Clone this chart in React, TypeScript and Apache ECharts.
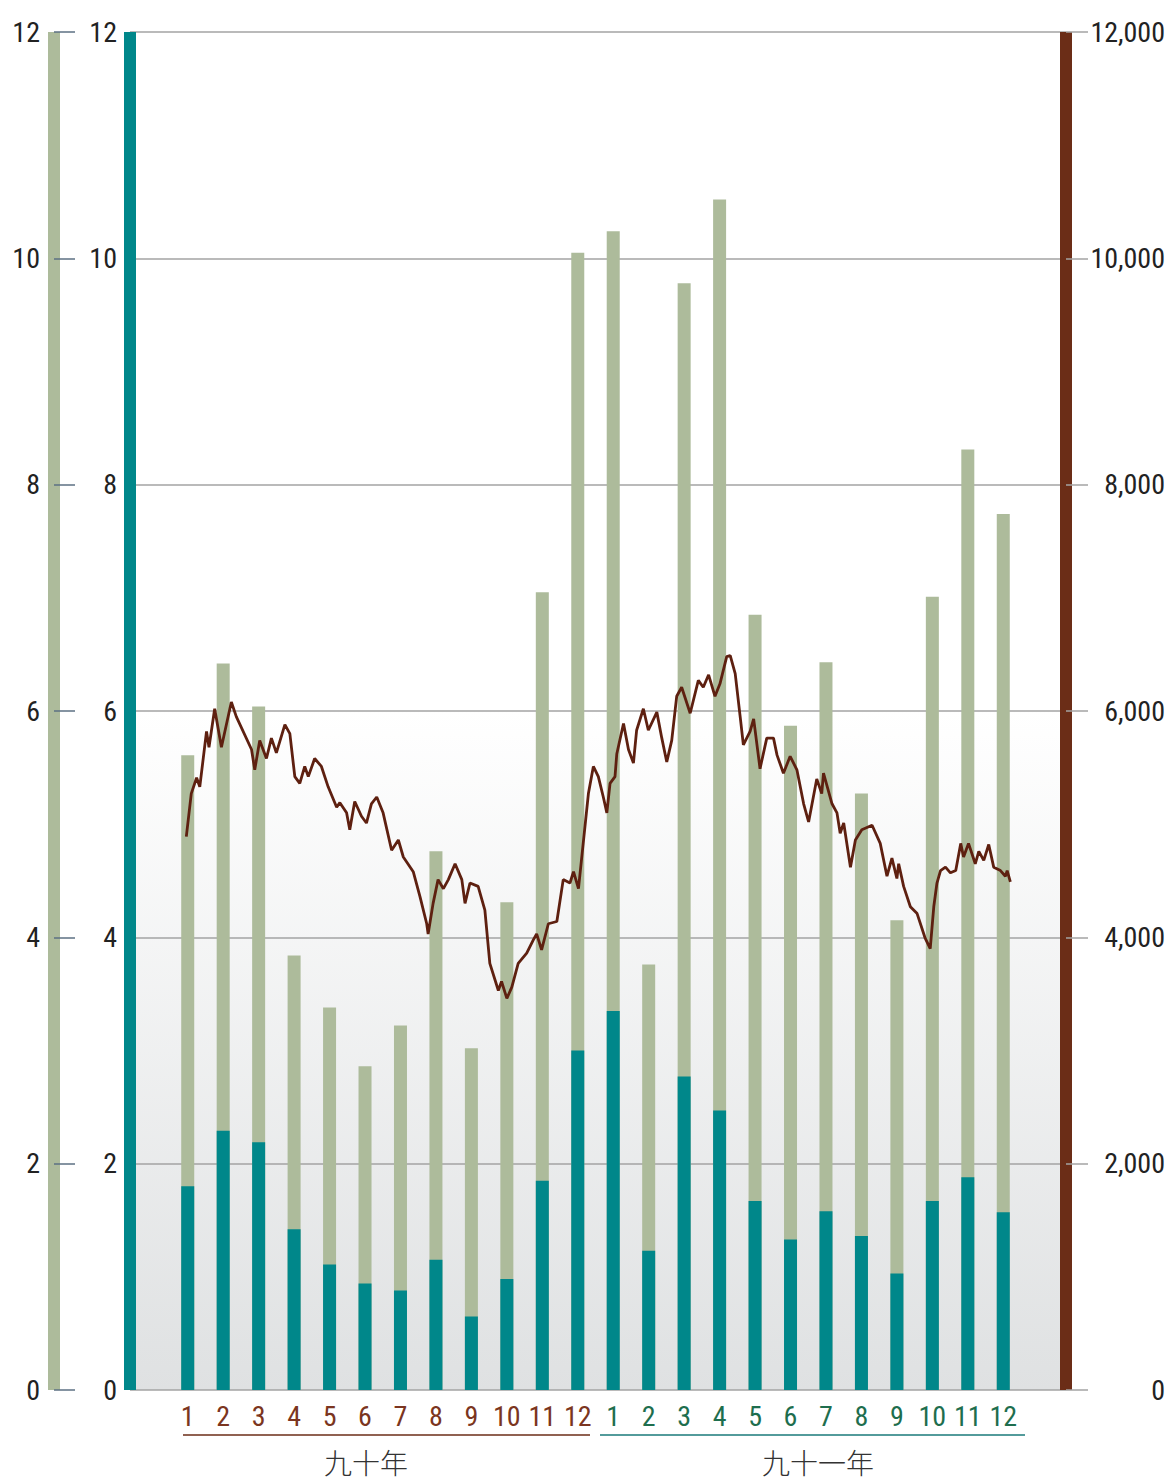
import React, { useEffect, useRef } from "react";
import * as echarts from "echarts";

const months = ["1","2","3","4","5","6","7","8","9","10","11","12","1","2","3","4","5","6","7","8","9","10","11","12"];
const totalValues = [5.61,6.42,6.04,3.84,3.38,2.86,3.22,4.76,3.02,4.31,7.05,10.05,10.24,3.76,9.78,10.52,6.85,5.87,6.43,5.27,4.15,7.01,8.31,7.74];
const tealValues = [1.80,2.29,2.19,1.42,1.11,0.94,0.88,1.15,0.65,0.98,1.85,3.00,3.35,1.23,2.77,2.47,1.67,1.33,1.58,1.36,1.03,1.67,1.88,1.57];
const yearLabels = ["九十年", "九十一年"];
const leftMin = 0, leftMax = 12, leftInterval = 2;
const rightMin = 0, rightMax = 12000, rightInterval = 2000;

// line position in month units (0 = first month) and index value
const linePos = [-0.04,0.10,0.25,0.34,0.53,0.60,0.76,0.95,1.23,1.37,1.80,1.89,2.03,2.22,2.36,2.50,2.74,2.88,3.02,3.16,3.30,3.40,3.58,3.77,3.96,4.20,4.29,4.48,4.57,4.71,4.90,5.04,5.18,5.33,5.51,5.75,5.94,6.08,6.36,6.55,6.74,6.78,6.92,7.06,7.21,7.35,7.54,7.73,7.82,7.96,8.19,8.38,8.52,8.76,8.85,9.00,9.14,9.32,9.56,9.75,9.84,9.98,10.17,10.41,10.59,10.78,10.88,11.02,11.30,11.44,11.58,11.72,11.82,11.91,12.05,12.10,12.29,12.43,12.57,12.66,12.85,12.99,13.23,13.37,13.51,13.65,13.79,13.93,14.17,14.40,14.54,14.69,14.87,15.01,15.20,15.30,15.44,15.58,15.67,15.86,15.96,16.14,16.33,16.52,16.62,16.80,16.99,17.18,17.37,17.51,17.74,17.88,17.93,18.17,18.31,18.40,18.50,18.69,18.83,19.01,19.30,19.53,19.72,19.86,20.00,20.05,20.19,20.38,20.57,20.80,20.94,21.04,21.13,21.23,21.37,21.51,21.66,21.80,21.88,22.02,22.21,22.31,22.45,22.59,22.73,22.92,23.06,23.11,23.20];
const lineValues = [4890,5270,5410,5330,5820,5680,6020,5680,6080,5950,5660,5480,5740,5580,5760,5630,5880,5800,5420,5360,5510,5420,5580,5510,5330,5150,5190,5100,4950,5200,5070,5010,5180,5240,5100,4770,4860,4710,4580,4360,4120,4030,4300,4510,4430,4510,4650,4510,4300,4480,4450,4240,3770,3530,3610,3460,3560,3770,3860,3980,4030,3890,4120,4140,4510,4480,4580,4430,5270,5510,5420,5240,5100,5360,5420,5620,5890,5660,5540,5830,6020,5830,5990,5760,5550,5740,6130,6210,5980,6270,6210,6320,6130,6240,6480,6490,6330,5950,5700,5820,5930,5490,5760,5760,5610,5450,5600,5480,5180,5020,5400,5270,5450,5180,5100,4920,5010,4620,4860,4950,4990,4830,4540,4700,4520,4650,4450,4270,4210,3990,3900,4270,4480,4590,4620,4570,4590,4830,4710,4830,4650,4760,4680,4820,4620,4590,4540,4590,4490];

const NUM_FONT = "'Liberation Sans Narrow', 'Roboto Condensed', 'Arial Narrow', 'Liberation Sans', sans-serif";

export default function App() {
  const ref = useRef<HTMLDivElement>(null);
  useEffect(() => {
    document.body.style.margin = "0";
    const chart = echarts.init(ref.current!, null, { renderer: "svg" });
    const lineData = linePos.map((p, i) => [p, lineValues[i]]);
    chart.setOption({
      animation: false,
      backgroundColor: "#ffffff",
      grid: [
        {
          left: 130, right: 104, top: 32, bottom: 91,
          show: true, borderWidth: 0,
          backgroundColor: new echarts.graphic.LinearGradient(0, 0, 0, 1, [
            { offset: 0, color: "#ffffff" },
            { offset: 0.5, color: "#ffffff" },
            { offset: 1, color: "#dfe1e2" },
          ]),
        },
        { left: 170, right: 149, top: 32, bottom: 91 },
      ],
      xAxis: [
        { type: "value", gridIndex: 0, show: false, min: 0, max: 1 },
        {
          type: "category", gridIndex: 1, data: months,
          axisLine: { show: false }, axisTick: { show: false },
          axisLabel: {
            margin: 12,
            interval: 0,
            formatter: (v: string, i: number) => (i < 12 ? `{a|${v}}` : `{b|${v}}`),
            rich: {
              a: { fontSize: 28, color: "#7b3520", fontFamily: NUM_FONT },
              b: { fontSize: 28, color: "#1e6e4e", fontFamily: NUM_FONT },
            },
          },
        },
        { type: "value", gridIndex: 1, show: false, min: -0.5, max: 23.5 },
      ],
      yAxis: [
        {
          type: "value", gridIndex: 0, position: "left",
          min: leftMin, max: leftMax, interval: leftInterval,
          axisLine: { show: true, lineStyle: { color: "#00878a", width: 12, cap: "butt" } },
          axisTick: { show: false },
          axisLabel: { margin: 13, fontSize: 28, color: "#222", fontFamily: NUM_FONT },
          splitLine: { show: true, lineStyle: { color: "#a3a3a3", width: 1.5 } },
        },
        {
          type: "value", gridIndex: 0, position: "left", offset: 76,
          min: leftMin, max: leftMax, interval: leftInterval,
          axisLine: { show: true, lineStyle: { color: "#adbb9b", width: 12, cap: "butt" } },
          axisTick: { show: true, inside: true, length: 21, lineStyle: { color: "#5d7183", width: 1.5 } },
          axisLabel: { margin: 14, fontSize: 28, color: "#222", fontFamily: NUM_FONT },
          splitLine: { show: false },
        },
        {
          type: "value", gridIndex: 0, position: "right",
          min: rightMin, max: rightMax, interval: rightInterval,
          axisLine: { show: true, lineStyle: { color: "#6b2d17", width: 12, cap: "butt" } },
          axisTick: { show: true, length: 22, lineStyle: { color: "#a3a3a3", width: 1.5 } },
          axisLabel: {
            margin: 99, align: "right", fontSize: 28, color: "#222", fontFamily: NUM_FONT,
            formatter: (v: number) => v.toLocaleString("en-US"),
          },
          splitLine: { show: false },
        },
        { type: "value", gridIndex: 1, show: false, min: leftMin, max: leftMax },
        { type: "value", gridIndex: 1, show: false, min: rightMin, max: rightMax },
      ],
      series: [
        {
          type: "bar", xAxisIndex: 1, yAxisIndex: 3, data: totalValues,
          barWidth: 13, barGap: "-100%", itemStyle: { color: "#adbb9b" }, z: 2,
        },
        {
          type: "bar", xAxisIndex: 1, yAxisIndex: 3, data: tealValues,
          barWidth: 13, barGap: "-100%", itemStyle: { color: "#00878a" }, z: 3,
        },
        {
          type: "line", xAxisIndex: 2, yAxisIndex: 4, data: lineData,
          showSymbol: false, symbol: "none",
          lineStyle: { color: "#5e2010", width: 2.8 }, z: 5,
        },
      ],
      graphic: [
        { type: "line", shape: { x1: 183, y1: 1435, x2: 590, y2: 1435 }, style: { stroke: "#6b2d17", lineWidth: 1.5 } },
        { type: "line", shape: { x1: 600, y1: 1435, x2: 1025, y2: 1435 }, style: { stroke: "#1a7a7a", lineWidth: 1.5 } },
        { type: "text", x: 366, y: 1462, style: { text: yearLabels[0], fontSize: 28, fill: "#333", align: "center", verticalAlign: "middle", fontFamily: "'Noto Sans CJK TC', sans-serif", fontWeight: 300 } },
        { type: "text", x: 818, y: 1462, style: { text: yearLabels[1], fontSize: 28, fill: "#333", align: "center", verticalAlign: "middle", fontFamily: "'Noto Sans CJK TC', sans-serif", fontWeight: 300 } },
      ],
    });
    return () => chart.dispose();
  }, []);
  return <div ref={ref} style={{ width: 1170, height: 1481 }} />;
}
